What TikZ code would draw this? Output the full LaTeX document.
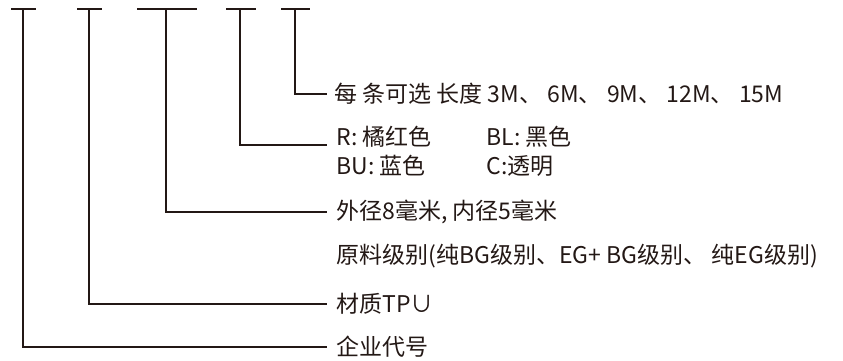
\documentclass[tikz,border=0pt]{standalone}
\usepackage{fontspec}
\setmainfont{Noto Sans CJK SC}
\usetikzlibrary{positioning}
\definecolor{ink}{HTML}{231815}

\begin{document}
\begin{tikzpicture}[x=1pt, y=-1pt, line width=1.2pt, draw=ink,
  txt/.style={anchor=west, inner sep=0pt, text=ink, font=\fontsize{23}{28}\selectfont},
  bar/.style={draw=ink, line width=1.2pt}]
\useasboundingbox (0,0) rectangle (843,360);

% 顶部短横线
\draw[bar] (11,9) -- (36,9);
\draw[bar] (77,9) -- (102,9);
\draw[bar] (137,9) -- (197,9);
\draw[bar] (226,9) -- (256,9);
\draw[bar] (281,9) -- (310,9);

\coordinate (t1) at (23,9);
\coordinate (t2) at (89,9);
\coordinate (t3) at (166,9);
\coordinate (t4) at (240,9);
\coordinate (t5) at (295,9);

% 说明文字
\node[txt] (len) at (334,94) {每 条可选 长度\hspace{5pt}3M、 6M、 9M、 12M、 15M};
\node[txt] (red) at (336,137) {R: 橘红色};
\node[txt] (black) at (486,137) {BL: 黑色};
\node[txt] (blue) at (336,166) {BU: 蓝色};
\node[txt] (clear) at (486,166) {C:透明};
\node[txt] (dia) at (336,212) {外径8毫米, 内径5毫米};
\node[txt] (grade) at (336,256) {原料级别(纯BG级别、EG+ BG级别、 纯EG级别)};
\node[txt] (mat) at (336,304) {材质TP∪};
\node[txt] (corp) at (336,347) {企业代号};

\coordinate (col) at (327,145);

% 引线
\draw[bar] (t5) |- ([xshift=-7pt]len.west);
\draw[bar] (t4) |- (col);
\draw[bar] (t3) |- ([xshift=-9pt]dia.west);
\draw[bar] (t2) |- ([xshift=-9pt]mat.west);
\draw[bar] (t1) |- ([xshift=-9pt]corp.west);
\end{tikzpicture}
\end{document}
